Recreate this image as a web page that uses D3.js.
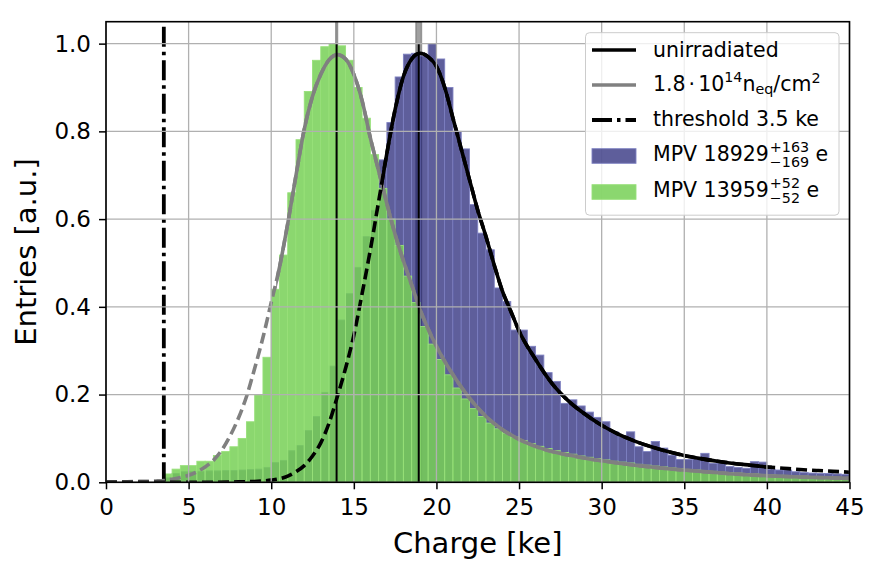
<!DOCTYPE html>
<html><head><meta charset="utf-8">
<script src="https://cdn.jsdelivr.net/npm/d3@7"></script>
<style>
body{margin:0;background:#fff}
svg{display:block}
text{font-family:"DejaVu Sans",sans-serif;fill:#000}
</style>
</head><body>
<svg id="c" width="881" height="573"></svg>
<script>
// ---------------- DATA ----------------
const xDomain = [0, 45];
const yDomain = [0, 1.05];
const xTicks = [0, 5, 10, 15, 20, 25, 30, 35, 40, 45];
const yTicks = [0.0, 0.2, 0.4, 0.6, 0.8, 1.0];
const binWidth = 0.5; // ke, bins start at 0

// unirradiated histogram (normalised), 90 bins of 0.5 ke from 0 to 45
const unirrCounts = [
  0,0,0,0,0,0,0,0.010,0.020,0.024,
  0.025,0.025,0.026,0.026,0.027,0.027,0.028,0.029,0.030,0.034,
  0.045,0.050,0.072,0.084,0.118,0.150,0.205,0.265,0.370,0.430,
  0.490,0.560,0.620,0.735,0.820,0.924,0.976,0.978,0.972,1.000,
  0.965,0.900,0.800,0.760,0.633,0.568,0.530,0.443,0.412,0.347,
  0.347,0.310,0.290,0.250,0.230,0.180,0.188,0.174,0.160,0.148,
  0.138,0.115,0.104,0.115,0.081,0.070,0.093,0.078,0.062,0.052,
  0.052,0.052,0.066,0.043,0.043,0.036,0.034,0.032,0.047,0.046,
  0.030,0.028,0.028,0.024,0.022,0.021,0.020,0.020,0.019,0.018
];
// irradiated histogram (normalised)
const irrCounts = [
  0,0,0,0,0,0,0,0.019,0.030,0.038,
  0.038,0.048,0.048,0.061,0.070,0.081,0.100,0.138,0.199,0.285,
  0.440,0.518,0.660,0.781,0.891,0.962,0.993,1.000,0.995,0.962,
  0.900,0.830,0.747,0.670,0.600,0.540,0.470,0.410,0.355,0.315,
  0.280,0.245,0.215,0.190,0.168,0.150,0.135,0.122,0.112,0.103,
  0.095,0.088,0.082,0.077,0.072,0.068,0.064,0.060,0.057,0.054,
  0.051,0.048,0.046,0.044,0.041,0.039,0.037,0.035,0.033,0.031,
  0.029,0.028,0.026,0.025,0.023,0.022,0.021,0.020,0.019,0.018,
  0.017,0.016,0.015,0.014,0.014,0.013,0.012,0.012,0.011,0.011
];

// fitted Landau-Gauss curves
const fitUnirrX = [0,2,4,6,8,9,10,10.5,11,11.5,12,12.5,13,13.5,14,14.5,15,15.5,16,16.5,17,17.5,18,18.5,19,19.5,20,20.5,21,21.5,22,22.5,23,23.5,24,24.5,25,26,27,28,29,30,31,32,33,34,35,36,37,38,39,40,41,42,43,44,45];
const fitUnirrY = [0,0,0,0,0.001,0.002,0.005,0.008,0.014,0.024,0.038,0.06,0.09,0.135,0.195,0.26,0.335,0.43,0.53,0.64,0.75,0.85,0.925,0.965,0.978,0.97,0.948,0.9,0.83,0.76,0.69,0.62,0.56,0.495,0.435,0.39,0.345,0.28,0.225,0.185,0.155,0.13,0.11,0.094,0.081,0.07,0.061,0.054,0.048,0.043,0.039,0.035,0.032,0.029,0.027,0.025,0.023];
const fitIrrX = [0,1,2,3,3.5,4,4.5,5,5.5,6,6.5,7,7.5,8,8.5,9,9.5,10,10.5,11,11.5,12,12.5,13,13.5,14,14.5,15,15.5,16,16.5,17,17.5,18,18.5,19,20,21,22,23,24,25,26,27,28,29,30,32,34,36,38,40,42,45];
const fitIrrY = [0.001,0.001,0.002,0.003,0.004,0.007,0.011,0.016,0.024,0.035,0.05,0.073,0.105,0.145,0.195,0.26,0.33,0.41,0.49,0.59,0.7,0.805,0.88,0.93,0.963,0.975,0.965,0.93,0.87,0.785,0.71,0.635,0.565,0.505,0.45,0.395,0.31,0.245,0.192,0.15,0.12,0.098,0.082,0.07,0.062,0.055,0.049,0.039,0.031,0.025,0.019,0.015,0.012,0.009];
const fitRangeUnirr = [16.7, 40.3];
const fitRangeIrr = [10.3, 45];

const mpvUnirr = {v: 18.929, hi: 0.163, lo: 0.169};
const mpvIrr   = {v: 13.959, hi: 0.052, lo: 0.052};
const threshold = 3.5;

const xLabel = "Charge [ke]";
const yLabel = "Entries [a.u.]";

// ---------------- STYLE ----------------
const C = {
  blueFill: "#191970", blueOp: 0.7, blueEdge: "#7f82c2",
  greenFill: "rgb(119,208,86)", greenOp: 0.85, greenEdge: "rgb(152,224,122)",
  gray: "#808080", grid: "#b0b0b0"
};

const svg = d3.select("#c");
const X0 = 106, X1 = 849.5, Y0 = 482.3, Y1 = 21.7;
const x = d3.scaleLinear().domain(xDomain).range([X0, X1]);
const y = d3.scaleLinear().domain(yDomain).range([Y0, Y1]);

const defs = svg.append("defs");
defs.append("clipPath").attr("id", "plot").append("rect")
  .attr("x", X0).attr("y", Y1).attr("width", X1 - X0).attr("height", Y0 - Y1);
defs.append("clipPath").attr("id", "fitU").append("rect")
  .attr("x", x(fitRangeUnirr[0])).attr("y", 0)
  .attr("width", x(fitRangeUnirr[1]) - x(fitRangeUnirr[0])).attr("height", 573);
defs.append("clipPath").attr("id", "fitI").append("rect")
  .attr("x", x(fitRangeIrr[0])).attr("y", 0)
  .attr("width", x(fitRangeIrr[1]) - x(fitRangeIrr[0]) + 10).attr("height", 573);

const plot = svg.append("g").attr("clip-path", "url(#plot)");

// MPV uncertainty bands
[mpvUnirr, mpvIrr].forEach(m => {
  plot.append("rect")
    .attr("x", x(m.v - m.lo)).attr("width", x(m.v + m.hi) - x(m.v - m.lo))
    .attr("y", y(yDomain[1])).attr("height", y(0) - y(yDomain[1]))
    .attr("fill", C.gray).attr("fill-opacity", 0.75)
    .attr("stroke", C.gray).attr("stroke-opacity", 0.75).attr("stroke-width", 1.5);
});

function drawHist(counts, fill, op, edge) {
  const bins = counts.map((v, i) => ({x0: i * binWidth, x1: (i + 1) * binWidth, v})).filter(d => d.v > 0);
  plot.append("g").selectAll("rect").data(bins).join("rect")
    .attr("x", d => x(d.x0)).attr("width", d => x(d.x1) - x(d.x0))
    .attr("y", d => y(d.v)).attr("height", d => y(0) - y(d.v))
    .attr("fill", fill).attr("fill-opacity", op)
    .attr("stroke", edge).attr("stroke-width", 0.9);
}
drawHist(unirrCounts, C.blueFill, C.blueOp, C.blueEdge);
drawHist(irrCounts, C.greenFill, C.greenOp, C.greenEdge);

// grid
const grid = svg.append("g");
grid.selectAll(".gx").data(xTicks).join("line")
  .attr("x1", d => x(d)).attr("x2", d => x(d)).attr("y1", Y0).attr("y2", Y1)
  .attr("stroke", C.grid).attr("stroke-width", 1.3);
grid.selectAll(".gy").data(yTicks).join("line")
  .attr("y1", d => y(d)).attr("y2", d => y(d)).attr("x1", X0).attr("x2", X1)
  .attr("stroke", C.grid).attr("stroke-width", 1.3);

// threshold
plot.append("line")
  .attr("x1", x(threshold)).attr("x2", x(threshold)).attr("y1", Y0).attr("y2", Y1)
  .attr("stroke", "#000").attr("stroke-width", 3.8).attr("stroke-dasharray", "20,5,3.5,5");

// curves
const line = d3.line().x(d => x(d[0])).y(d => y(d[1])).curve(d3.curveMonotoneX);
const ptsU = d3.zip(fitUnirrX, fitUnirrY);
const ptsI = d3.zip(fitIrrX, fitIrrY);

plot.append("path").attr("d", line(ptsI)).attr("fill", "none")
  .attr("stroke", C.gray).attr("stroke-width", 3.6).attr("stroke-dasharray", "11,5");
plot.append("path").attr("d", line(ptsI)).attr("fill", "none").attr("clip-path", "url(#fitI)")
  .attr("stroke", C.gray).attr("stroke-width", 3.6);
plot.append("path").attr("d", line(ptsU)).attr("fill", "none")
  .attr("stroke", "#000").attr("stroke-width", 3.6).attr("stroke-dasharray", "11,5");
plot.append("path").attr("d", line(ptsU)).attr("fill", "none").attr("clip-path", "url(#fitU)")
  .attr("stroke", "#000").attr("stroke-width", 3.6);

// MPV lines
[mpvUnirr, mpvIrr].forEach(m => {
  plot.append("line").attr("x1", x(m.v)).attr("x2", x(m.v)).attr("y1", y(0)).attr("y2", y(1))
    .attr("stroke", "#000").attr("stroke-width", 2);
});

// axes
const fmtY = d3.format(".1f");
const ax = svg.append("g").attr("transform", `translate(0,${Y0})`)
  .call(d3.axisBottom(x).tickValues(xTicks).tickSize(7).tickPadding(9).tickFormat(d3.format("d")));
const ay = svg.append("g").attr("transform", `translate(${X0},0)`)
  .call(d3.axisLeft(y).tickValues(yTicks).tickSize(7).tickPadding(8).tickFormat(fmtY));
[ax, ay].forEach(a => {
  a.select(".domain").remove();
  a.selectAll(".tick line").attr("stroke", "#000").attr("stroke-width", 1.5);
  a.selectAll(".tick text").attr("font-size", 23).attr("font-family", "DejaVu Sans").attr("fill", "#000");
});

// frame
svg.append("rect").attr("x", X0).attr("y", Y1).attr("width", X1 - X0).attr("height", Y0 - Y1)
  .attr("fill", "none").attr("stroke", "#000").attr("stroke-width", 1.6);

// labels
svg.append("text").attr("x", (X0 + X1) / 2).attr("y", 552.5).attr("text-anchor", "middle")
  .attr("font-size", 29).text(xLabel);
svg.append("text").attr("transform", `translate(36,${(Y0 + Y1) / 2}) rotate(-90)`)
  .attr("text-anchor", "middle").attr("font-size", 29).text(yLabel);

// legend
const lg = svg.append("g");
lg.append("rect").attr("x", 585.5).attr("y", 32.7).attr("width", 253.5).attr("height", 182.5)
  .attr("rx", 4).attr("fill", "#fff").attr("fill-opacity", 0.8)
  .attr("stroke", "#cccccc").attr("stroke-width", 1);
const hx0 = 592, hx1 = 636, tx = 653, fs = 20.5, sfs = 14.3;
const rowC = [50, 85, 120, 156, 192];
const rowB = [56.7, 90.5, 125.7, 160.7, 196.7];

lg.append("line").attr("x1", hx0).attr("x2", hx1).attr("y1", rowC[0]).attr("y2", rowC[0])
  .attr("stroke", "#000").attr("stroke-width", 3.6);
lg.append("line").attr("x1", hx0).attr("x2", hx1).attr("y1", rowC[1]).attr("y2", rowC[1])
  .attr("stroke", C.gray).attr("stroke-width", 3.6);
lg.append("line").attr("x1", hx0).attr("x2", hx1).attr("y1", rowC[2]).attr("y2", rowC[2])
  .attr("stroke", "#000").attr("stroke-width", 3.8).attr("stroke-dasharray", "20,5,3.5,5");
lg.append("rect").attr("x", hx0).attr("y", rowC[3] - 7.3).attr("width", hx1 - hx0).attr("height", 14.6)
  .attr("fill", C.blueFill).attr("fill-opacity", C.blueOp).attr("stroke", C.blueEdge).attr("stroke-width", 0.9);
lg.append("rect").attr("x", hx0).attr("y", rowC[4] - 7.3).attr("width", hx1 - hx0).attr("height", 14.6)
  .attr("fill", C.greenFill).attr("fill-opacity", C.greenOp).attr("stroke", C.greenEdge).attr("stroke-width", 0.9);

lg.append("text").attr("x", tx).attr("y", rowB[0]).attr("font-size", fs).text("unirradiated");

// 1.8·10^14 n_eq/cm^2
const t2 = lg.append("text").attr("x", tx).attr("y", rowB[1]).attr("font-size", fs);
t2.append("tspan").text("1.8");
t2.append("tspan").attr("dx", 3).text("·");
t2.append("tspan").attr("dx", 3).text("10");
t2.append("tspan").attr("dy", -8.5).attr("font-size", sfs).text("14");
t2.append("tspan").attr("dy", 8.5).text("n");
t2.append("tspan").attr("dy", 3).attr("font-size", sfs).text("eq");
t2.append("tspan").attr("dy", -3).text("/cm");
t2.append("tspan").attr("dy", -8).attr("font-size", sfs).text("2");

lg.append("text").attr("x", tx).attr("y", rowB[2]).attr("font-size", fs).text("threshold 3.5 ke");

function mpvLabel(row, m) {
  const main = lg.append("text").attr("x", tx).attr("y", rowB[row]).attr("font-size", fs)
    .text("MPV " + Math.round(m.v * 1000));
  const w = main.node().getComputedTextLength();
  const sx = tx + w + 1;
  const sup = lg.append("text").attr("x", sx).attr("y", rowB[row] - 9).attr("font-size", sfs)
    .text("+" + Math.round(m.hi * 1000));
  const sub = lg.append("text").attr("x", sx).attr("y", rowB[row] + 6).attr("font-size", sfs)
    .text("\u2212" + Math.round(m.lo * 1000));
  const sw = Math.max(sup.node().getComputedTextLength(), sub.node().getComputedTextLength());
  lg.append("text").attr("x", sx + sw).attr("y", rowB[row]).attr("font-size", fs).text("\u00a0e");
}
mpvLabel(3, mpvUnirr);
mpvLabel(4, mpvIrr);
</script>
</body></html>
